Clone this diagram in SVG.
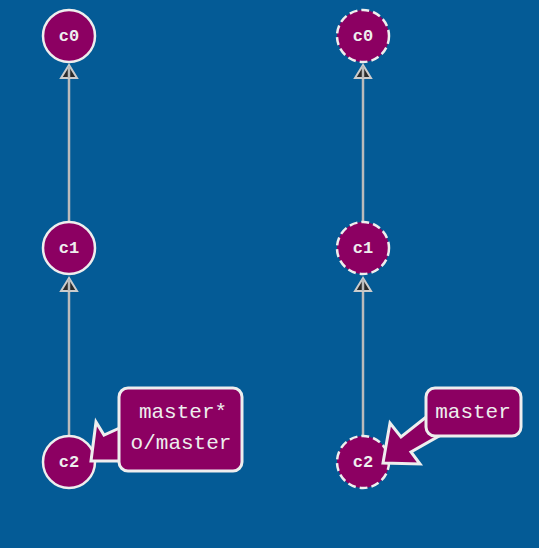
<svg xmlns="http://www.w3.org/2000/svg" width="539" height="548" viewBox="0 0 539 548">
<style>
.node{fill:#8c0062;stroke:#eeeeee;stroke-width:2.5}
.dash{stroke-dasharray:8 4}
.nl{font-family:"Liberation Mono",monospace;font-weight:bold;font-size:17px;fill:#eeeeee;text-anchor:middle}
.edge{stroke:#bbbbbb;stroke-width:2.5;fill:none}
.ah{fill:#2a2a2a;stroke:#cccccc;stroke-width:2;stroke-linejoin:miter}
.box{fill:#8c0062;stroke:#eeeeee;stroke-width:3;stroke-linejoin:miter}
.bl{font-family:"Liberation Mono",monospace;font-size:21px;fill:#eeeeee;text-anchor:middle}
</style>
<rect width="539" height="548" fill="#045b96"/>
<g id="connectors">
<line class="edge" x1="69" y1="66" x2="69" y2="222"/>
<polygon class="ah" points="69,65 61,78 77,78"/>
<line class="edge" x1="69" y1="66" x2="69" y2="78"/>
<line class="edge" x1="69" y1="279" x2="69" y2="436"/>
<polygon class="ah" points="69,278 61,291 77,291"/>
<line class="edge" x1="69" y1="279" x2="69" y2="291"/>
<line class="edge" x1="363" y1="66" x2="363" y2="222"/>
<polygon class="ah" points="363,65 355,78 371,78"/>
<line class="edge" x1="363" y1="66" x2="363" y2="78"/>
<line class="edge" x1="363" y1="279" x2="363" y2="436"/>
<polygon class="ah" points="363,278 355,291 371,291"/>
<line class="edge" x1="363" y1="279" x2="363" y2="291"/>
</g>
<g id="c0-left"><circle class="node" cx="69" cy="36" r="26"/><text class="nl" x="69" y="41">c0</text></g>
<g id="c1-left"><circle class="node" cx="69" cy="248" r="26"/><text class="nl" x="69" y="253">c1</text></g>
<g id="c2-left"><circle class="node" cx="69" cy="462" r="26"/><text class="nl" x="69" y="467">c2</text></g>
<g id="c0-right"><circle class="node dash" cx="363" cy="36" r="26"/><text class="nl" x="363" y="41">c0</text></g>
<g id="c1-right"><circle class="node dash" cx="363" cy="248" r="26"/><text class="nl" x="363" y="253">c1</text></g>
<g id="c2-right"><circle class="node dash" cx="363" cy="462" r="26"/><text class="nl" x="363" y="467">c2</text></g>
<g id="branch-left">
<polygon class="box" points="124,426 104,435 96,422 91,461 124,461"/>
<rect class="box" x="119" y="388" width="123" height="83" rx="9"/>
<text class="bl" x="183" y="418">master*</text>
<text class="bl" x="181" y="449">o/master</text>
</g>
<g id="branch-right">
<polygon class="box" points="430,414 401,437 390,423 383,463 420,464 411,452 446,432"/>
<rect class="box" x="426" y="388" width="95" height="48" rx="9"/>
<text class="bl" x="473" y="418">master</text>
</g>
</svg>
